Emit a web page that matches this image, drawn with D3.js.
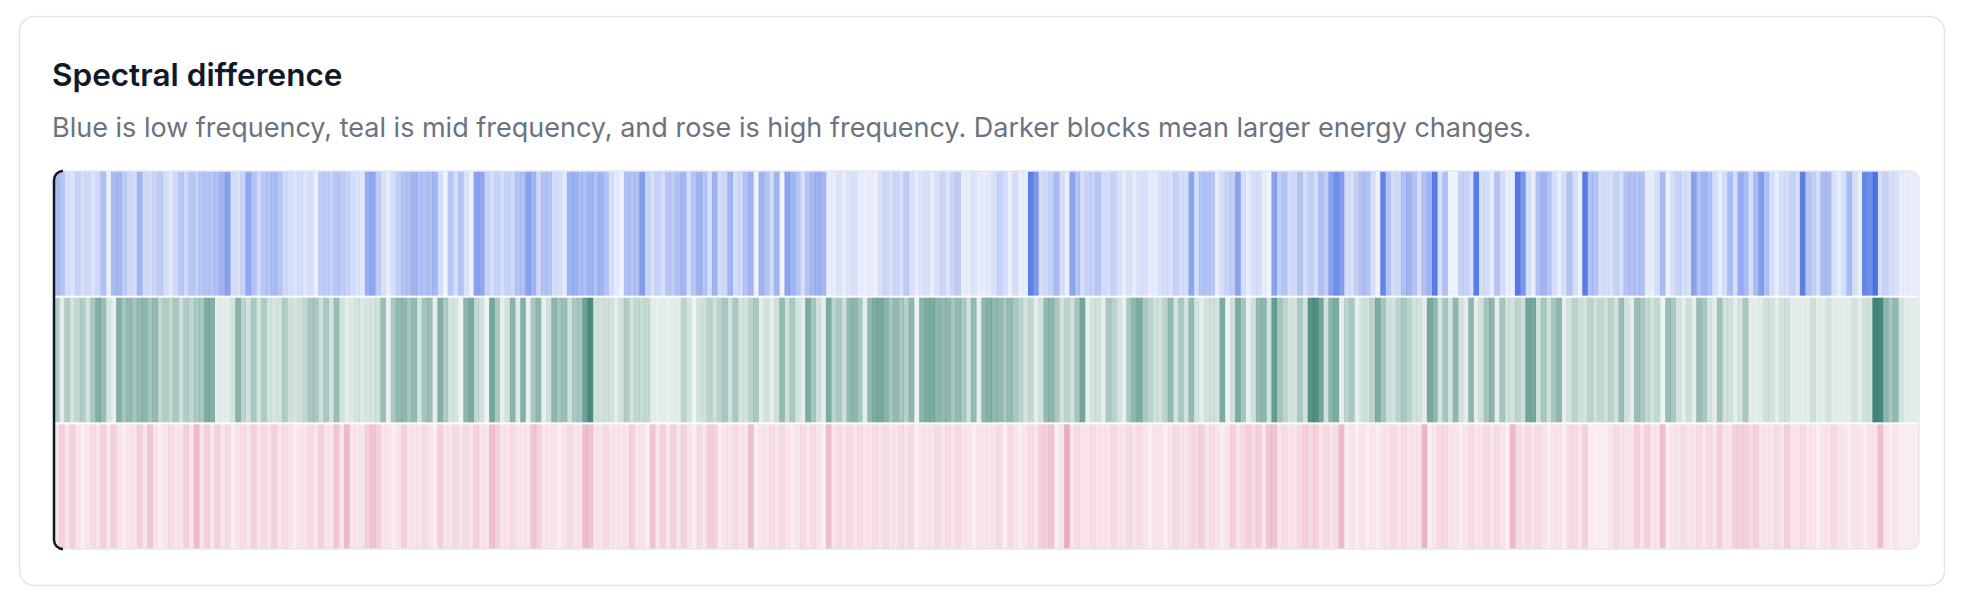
<!DOCTYPE html>
<html>
<head>
<meta charset="utf-8">
<script src="https://cdn.jsdelivr.net/npm/d3@7"></script>
<style>
  html, body { margin: 0; padding: 0; background: #ffffff; }
  svg { display: block; }
</style>
</head>
<body>
<div id="chart"></div>
<script>
const titleText = "Spectral difference";
const subtitleText = "Blue is low frequency, teal is mid frequency, and rose is high frequency. Darker blocks mean larger energy changes.";
const bands = ["Low", "Mid", "High"];
const bandColors = ["#4169e1", "#1e6e5f", "#c8285a"];
const frameCount = 360;

const lowValues = [
0.45,0.40,0.22,0.18,0.30,0.22,0.25,0.18,0.25,0.42, 0.12,0.45,0.48,0.35,0.25,0.22,0.50,0.25,0.22,0.28, 0.35,0.22,0.15,0.25,0.38,0.25,0.38,0.32,0.38,0.40, 0.38,0.42,0.50,0.62,0.22,0.20,0.30,0.58,0.40,0.25, 0.38,0.40,0.45,0.38,0.25,0.22,0.18,0.22,0.16,0.22, 0.10,0.35,0.35,0.30,0.38,0.35,0.30,0.22,0.18,0.16,
0.55,0.58,0.35,0.20,0.12,0.22,0.32,0.40,0.42,0.50, 0.42,0.40,0.42,0.48,0.22,0.08,0.38,0.22,0.40,0.20, 0.08,0.62,0.58,0.30,0.22,0.30,0.22,0.30,0.25,0.40, 0.42,0.62,0.50,0.25,0.40,0.40,0.22,0.22,0.15,0.50, 0.52,0.45,0.42,0.50,0.42,0.50,0.40,0.22,0.14,0.08, 0.42,0.40,0.42,0.65,0.30,0.22,0.30,0.22,0.38,0.35,
0.42,0.48,0.22,0.40,0.50,0.40,0.22,0.50,0.22,0.25, 0.50,0.22,0.25,0.40,0.50,0.08,0.50,0.40,0.25,0.50, 0.08,0.60,0.50,0.40,0.22,0.40,0.48,0.52,0.48,0.12, 0.12,0.18,0.12,0.18,0.20,0.12,0.10,0.12,0.10,0.20, 0.28,0.20,0.28,0.20,0.35,0.20,0.12,0.18,0.20,0.12, 0.20,0.28,0.18,0.28,0.35,0.12,0.12,0.18,0.12,0.12,
0.14,0.20,0.30,0.22,0.10,0.22,0.12,0.12,0.85,0.70, 0.22,0.25,0.32,0.45,0.22,0.10,0.60,0.40,0.22,0.30, 0.30,0.38,0.22,0.22,0.30,0.20,0.12,0.20,0.12,0.20, 0.20,0.12,0.12,0.20,0.22,0.20,0.30,0.22,0.22,0.60, 0.22,0.40,0.40,0.38,0.12,0.22,0.30,0.32,0.62,0.22, 0.12,0.20,0.22,0.12,0.08,0.62,0.32,0.40,0.22,0.25,
0.40,0.22,0.32,0.22,0.42,0.32,0.62,0.75,0.65,0.22, 0.20,0.32,0.42,0.40,0.22,0.08,0.82,0.40,0.22,0.25, 0.42,0.50,0.40,0.22,0.42,0.50,0.88,0.20,0.42,0.08, 0.08,0.30,0.30,0.22,0.88,0.22,0.22,0.12,0.40,0.22, 0.12,0.12,0.90,0.70,0.22,0.12,0.42,0.50,0.40,0.22, 0.12,0.22,0.40,0.22,0.10,0.88,0.42,0.40,0.22,0.22,
0.20,0.30,0.22,0.40,0.42,0.40,0.42,0.12,0.12,0.22, 0.45,0.10,0.22,0.30,0.22,0.20,0.62,0.40,0.50,0.42, 0.22,0.12,0.22,0.45,0.22,0.55,0.45,0.22,0.45,0.65, 0.42,0.22,0.12,0.22,0.22,0.30,0.22,0.85,0.40,0.32, 0.22,0.45,0.45,0.20,0.12,0.22,0.45,0.22,0.12,0.80, 0.75,0.95,0.22,0.30,0.22,0.20,0.12,0.12,0.12,0.12
];

const midValues = [
0.35,0.12,0.35,0.20,0.28,0.35,0.20,0.38,0.55,0.45, 0.18,0.10,0.55,0.40,0.48,0.40,0.48,0.50,0.40,0.48, 0.28,0.35,0.28,0.38,0.22,0.35,0.28,0.38,0.40,0.58, 0.55,0.12,0.12,0.12,0.20,0.52,0.30,0.20,0.38,0.20, 0.35,0.20,0.18,0.20,0.35,0.22,0.18,0.22,0.28,0.38, 0.38,0.22,0.38,0.20,0.45,0.20,0.12,0.15,0.20,0.15,
0.18,0.18,0.22,0.45,0.10,0.38,0.48,0.50,0.40,0.48, 0.20,0.40,0.45,0.10,0.55,0.35,0.20,0.18,0.08,0.50, 0.58,0.28,0.20,0.08,0.62,0.38,0.10,0.20,0.52,0.15, 0.55,0.10,0.38,0.50,0.10,0.22,0.50,0.40,0.45,0.22, 0.38,0.40,0.65,0.80,0.22,0.20,0.22,0.20,0.12,0.22, 0.35,0.20,0.28,0.25,0.28,0.12,0.10,0.12,0.10,0.12,
0.12,0.30,0.20,0.08,0.20,0.22,0.30,0.22,0.30,0.38, 0.20,0.38,0.20,0.20,0.30,0.38,0.12,0.20,0.12,0.22, 0.48,0.22,0.38,0.20,0.12,0.58,0.40,0.22,0.12,0.58, 0.30,0.38,0.22,0.48,0.50,0.40,0.12,0.50,0.58,0.60, 0.52,0.40,0.48,0.40,0.32,0.50,0.08,0.52,0.58,0.58, 0.50,0.48,0.50,0.40,0.48,0.38,0.22,0.48,0.12,0.50,
0.55,0.48,0.48,0.40,0.48,0.38,0.30,0.20,0.28,0.12, 0.20,0.48,0.50,0.38,0.20,0.30,0.22,0.40,0.62,0.10, 0.20,0.22,0.12,0.38,0.30,0.20,0.10,0.38,0.50,0.58, 0.38,0.30,0.22,0.20,0.30,0.48,0.20,0.38,0.20,0.48, 0.20,0.12,0.20,0.22,0.20,0.58,0.08,0.22,0.58,0.40, 0.10,0.22,0.48,0.50,0.20,0.68,0.40,0.30,0.20,0.20,
0.38,0.20,0.75,0.78,0.62,0.20,0.52,0.58,0.12,0.30, 0.38,0.10,0.20,0.22,0.30,0.58,0.40,0.22,0.20,0.30, 0.38,0.30,0.20,0.20,0.12,0.60,0.50,0.20,0.40,0.20, 0.50,0.20,0.12,0.50,0.12,0.22,0.40,0.50,0.12,0.40, 0.22,0.20,0.30,0.22,0.62,0.60,0.22,0.40,0.22,0.40, 0.50,0.12,0.20,0.30,0.22,0.20,0.30,0.22,0.28,0.22,
0.30,0.20,0.45,0.20,0.12,0.45,0.38,0.28,0.20,0.28, 0.08,0.45,0.38,0.20,0.12,0.22,0.12,0.45,0.38,0.20, 0.12,0.42,0.20,0.22,0.12,0.20,0.38,0.12,0.12,0.14, 0.22,0.20,0.12,0.20,0.22,0.12,0.12,0.12,0.12,0.22, 0.12,0.12,0.20,0.12,0.12,0.12,0.12,0.20,0.12,0.20, 0.22,0.85,0.82,0.50,0.40,0.48,0.20,0.12,0.12,0.12
];

const highValues = [
0.12,0.22,0.12,0.22,0.12,0.08,0.12,0.17,0.12,0.22, 0.12,0.22,0.12,0.08,0.12,0.12,0.22,0.12,0.27,0.12, 0.08,0.12,0.17,0.12,0.12,0.22,0.12,0.32,0.12,0.22, 0.12,0.22,0.12,0.17,0.08,0.12,0.17,0.12,0.22,0.12, 0.17,0.12,0.22,0.12,0.17,0.12,0.08,0.12,0.12,0.17, 0.12,0.22,0.12,0.12,0.27,0.12,0.32,0.12,0.12,0.12,
0.22,0.27,0.22,0.12,0.12,0.08,0.12,0.22,0.12,0.12, 0.12,0.17,0.12,0.08,0.22,0.12,0.12,0.17,0.12,0.17, 0.12,0.22,0.12,0.12,0.30,0.22,0.12,0.12,0.17,0.12, 0.12,0.12,0.27,0.22,0.12,0.12,0.12,0.08,0.12,0.17, 0.12,0.12,0.30,0.27,0.12,0.12,0.17,0.12,0.12,0.12, 0.12,0.22,0.12,0.12,0.08,0.27,0.12,0.22,0.12,0.22,
0.12,0.22,0.12,0.08,0.17,0.12,0.22,0.22,0.08,0.12, 0.12,0.17,0.12,0.12,0.30,0.08,0.12,0.12,0.17,0.12, 0.17,0.12,0.08,0.12,0.17,0.12,0.17,0.12,0.08,0.30, 0.12,0.17,0.12,0.17,0.12,0.17,0.12,0.12,0.17,0.12, 0.17,0.12,0.12,0.17,0.12,0.17,0.08,0.12,0.12,0.12, 0.17,0.12,0.17,0.12,0.17,0.12,0.12,0.08,0.12,0.12,
0.12,0.12,0.17,0.08,0.17,0.12,0.08,0.12,0.17,0.12, 0.22,0.22,0.27,0.08,0.12,0.38,0.12,0.17,0.12,0.12, 0.17,0.12,0.12,0.12,0.17,0.12,0.12,0.17,0.12,0.17, 0.12,0.08,0.12,0.12,0.08,0.12,0.17,0.12,0.12,0.17, 0.17,0.22,0.12,0.17,0.12,0.08,0.12,0.22,0.12,0.17, 0.22,0.17,0.22,0.12,0.27,0.27,0.12,0.17,0.12,0.12,
0.17,0.22,0.17,0.22,0.12,0.17,0.12,0.17,0.32,0.08, 0.12,0.08,0.12,0.08,0.12,0.08,0.12,0.12,0.17,0.12, 0.17,0.12,0.12,0.12,0.35,0.08,0.12,0.17,0.17,0.12, 0.12,0.08,0.12,0.17,0.12,0.12,0.17,0.12,0.17,0.12, 0.08,0.33,0.17,0.12,0.17,0.12,0.17,0.12,0.08,0.12, 0.12,0.08,0.17,0.17,0.12,0.22,0.08,0.08,0.08,0.08,
0.12,0.17,0.12,0.12,0.12,0.22,0.12,0.22,0.12,0.12, 0.30,0.08,0.12,0.12,0.17,0.12,0.12,0.17,0.12,0.17, 0.12,0.22,0.12,0.12,0.22,0.22,0.22,0.17,0.22,0.12, 0.12,0.12,0.17,0.12,0.22,0.12,0.12,0.17,0.12,0.12, 0.08,0.12,0.12,0.17,0.12,0.12,0.08,0.12,0.12,0.08, 0.12,0.12,0.30,0.12,0.08,0.12,0.08,0.08,0.08,0.08
];

(function () {
const seriesValues = [lowValues, midValues, highValues];

const W = 1964, H = 604;
const svg = d3.select("#chart").append("svg")
  .attr("width", W).attr("height", H)
  .attr("viewBox", `0 0 ${W} ${H}`);

// card
svg.append("rect")
  .attr("x", 19.5).attr("y", 16.5)
  .attr("width", 1925).attr("height", 569)
  .attr("rx", 15).attr("ry", 15)
  .attr("fill", "#ffffff")
  .attr("stroke", "#e3e5e9").attr("stroke-width", 1.5);

svg.append("text")
  .attr("x", 52).attr("y", 86)
  .attr("font-family", "Inter, 'Noto Sans', sans-serif")
  .attr("font-weight", 600)
  .attr("font-size", 31.5)
  .attr("fill", "#111827")
  .text(titleText);

svg.append("text")
  .attr("x", 52).attr("y", 137)
  .attr("font-family", "Inter, 'Noto Sans', sans-serif")
  .attr("font-weight", 400)
  .attr("font-size", 27)
  .attr("fill", "#6b7280")
  .text(subtitleText);

// heatmap
const hmLeft = 54, hmRight = 1919, hmTop = 171, hmBottom = 549, r = 9;
const x = d3.scaleBand().domain(d3.range(frameCount)).range([hmLeft, hmRight]).paddingInner(0);
const y = d3.scaleBand().domain(bands).range([hmTop, hmBottom]).paddingInner(0.016);
const color = d3.scaleOrdinal().domain(bands).range(bandColors);
const opacity = d3.scaleLinear().domain([0, 1]).range([0, 1]).clamp(true);

const defs = svg.append("defs");
defs.append("clipPath").attr("id", "hm-clip")
  .append("rect")
  .attr("x", hmLeft).attr("y", hmTop)
  .attr("width", hmRight - hmLeft).attr("height", hmBottom - hmTop)
  .attr("rx", r).attr("ry", r);

const g = svg.append("g").attr("clip-path", "url(#hm-clip)");

const cells = [];
bands.forEach((b, bi) => {
  seriesValues[bi].forEach((v, fi) => cells.push({ band: b, frame: fi, value: v }));
});

g.selectAll("rect.cell")
  .data(cells)
  .join("rect")
  .attr("class", "cell")
  .attr("x", d => x(d.frame))
  .attr("y", d => y(d.band))
  .attr("width", x.bandwidth() + 0.35)
  .attr("height", y.bandwidth())
  .attr("fill", d => color(d.band))
  .attr("fill-opacity", d => opacity(d.value));

// container border
svg.append("rect")
  .attr("x", hmLeft).attr("y", hmTop)
  .attr("width", hmRight - hmLeft).attr("height", hmBottom - hmTop)
  .attr("rx", r).attr("ry", r)
  .attr("fill", "none")
  .attr("stroke", "#e5e7eb").attr("stroke-width", 1.5);

// dark left edge
svg.append("path")
  .attr("d", `M${hmLeft + r},${hmTop} A${r},${r} 0 0 0 ${hmLeft},${hmTop + r} L${hmLeft},${hmBottom - r} A${r},${r} 0 0 0 ${hmLeft + r},${hmBottom}`)
  .attr("fill", "none")
  .attr("stroke", "#111827")
  .attr("stroke-width", 2.5);
})();
</script>
</body>
</html>
